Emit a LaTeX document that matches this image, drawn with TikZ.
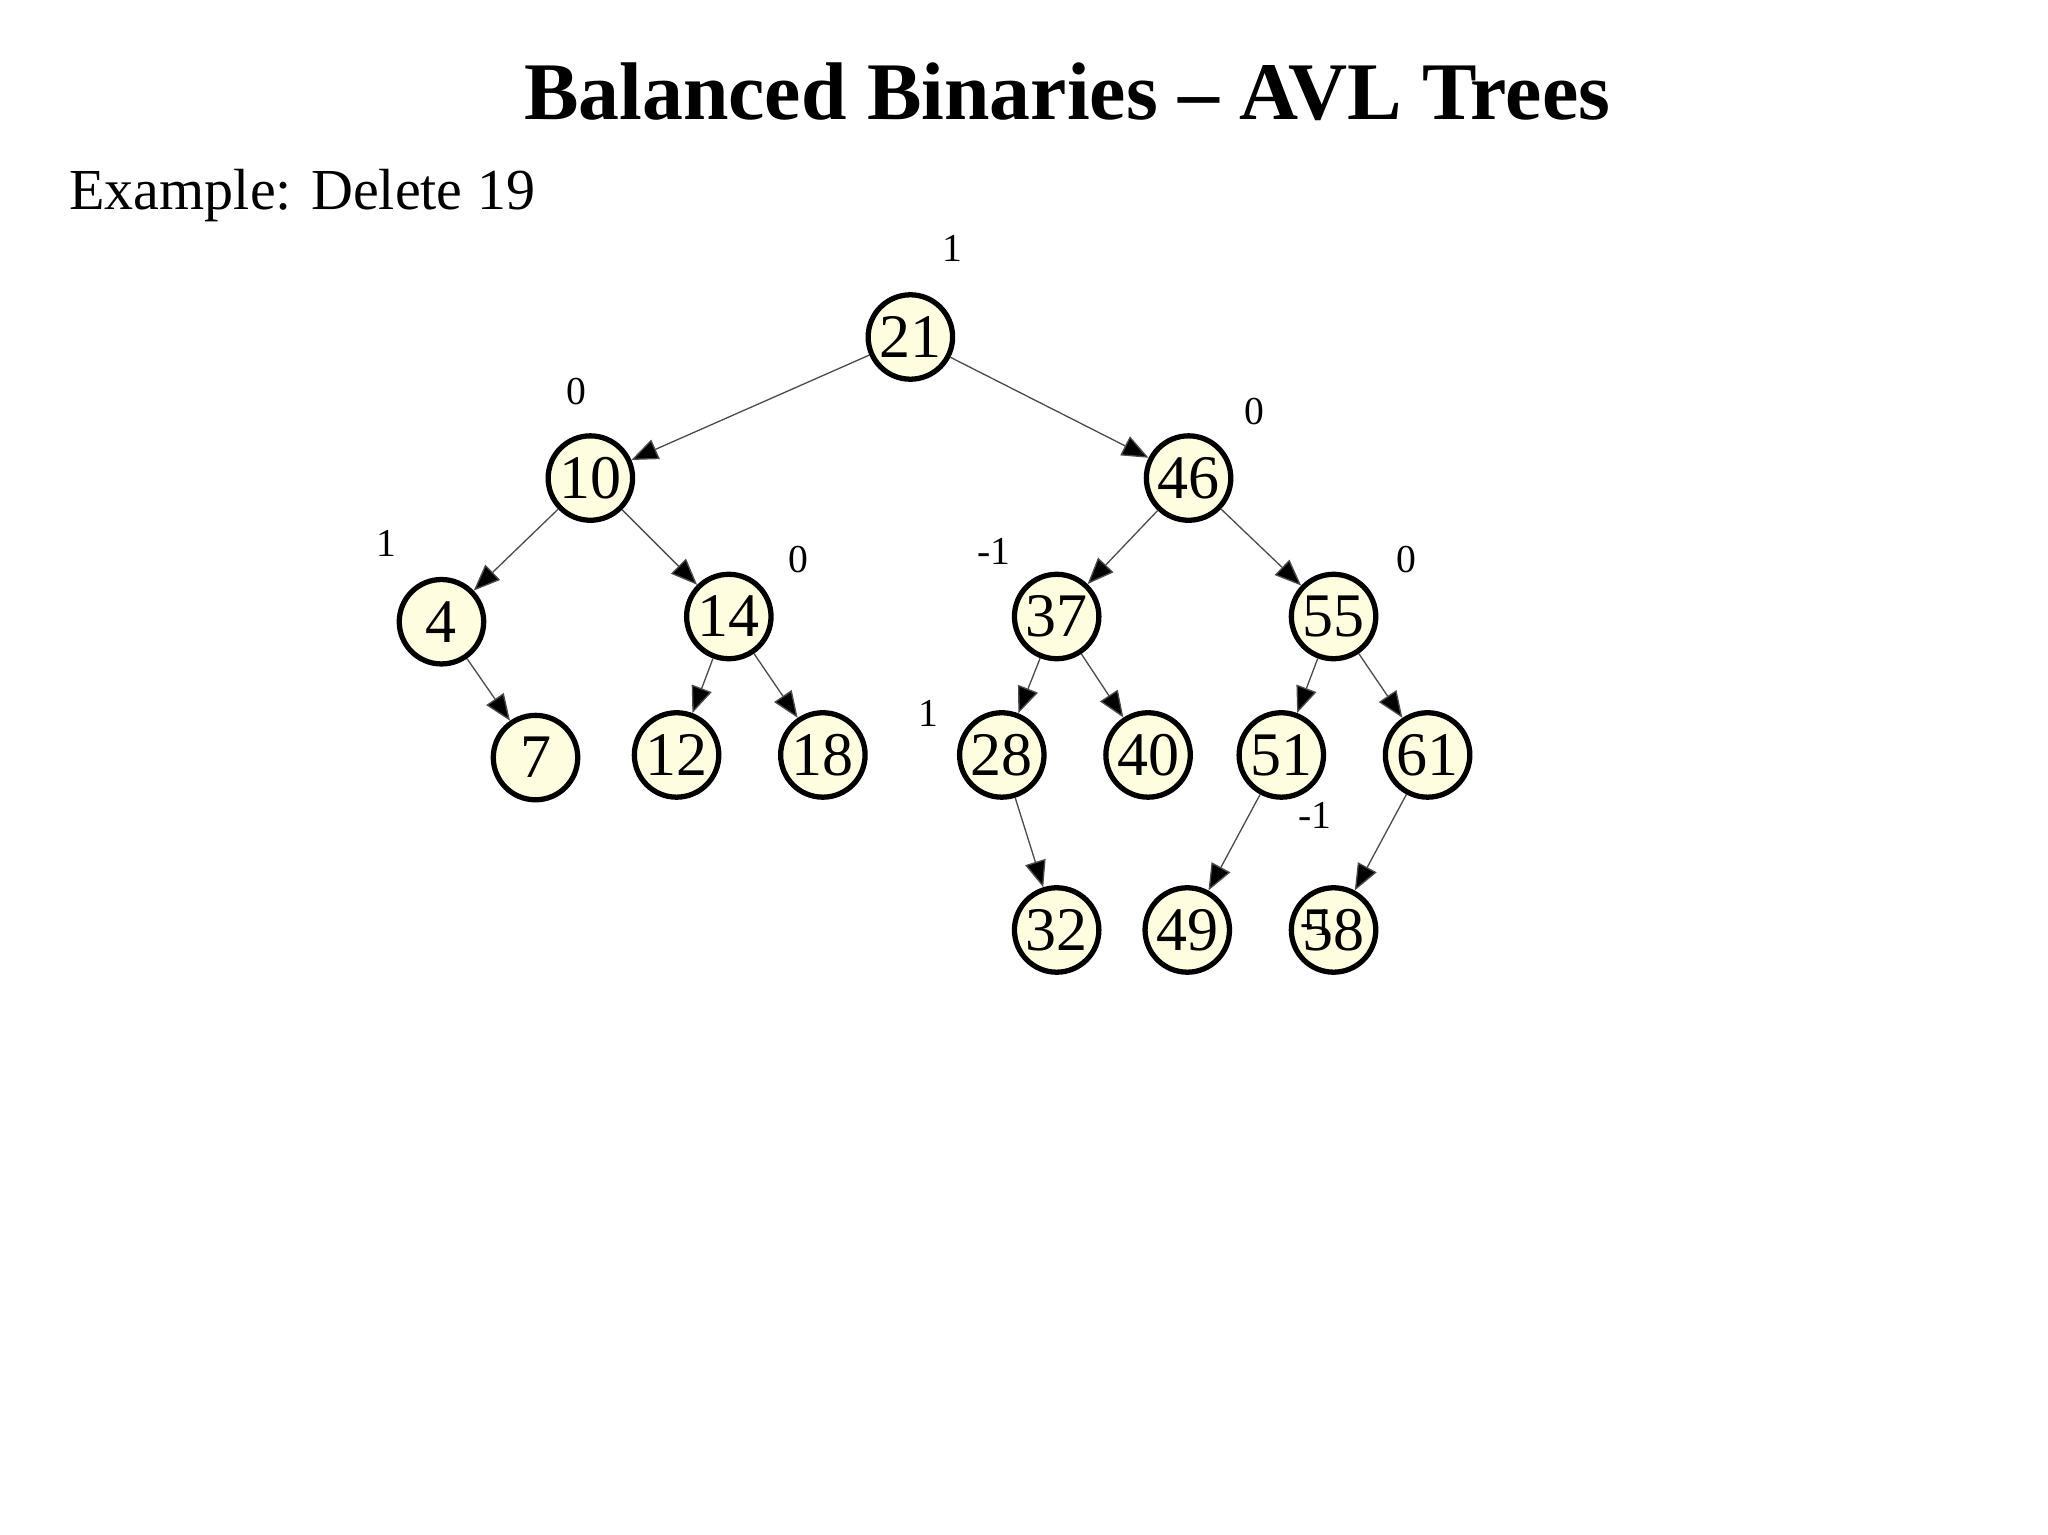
\documentclass[tikz,border=0pt]{standalone}
\usepackage{fontspec}
\setmainfont{Liberation Serif}
\usetikzlibrary{arrows.meta}
\definecolor{nodefill}{HTML}{FFFDE0}
\begin{document}
\begin{tikzpicture}[x=0.495pt,y=-0.495pt,
  tn/.style={circle,draw=black,line width=2pt,fill=nodefill,minimum size=32pt,inner sep=0pt,font=\fontsize{23.5}{25}\selectfont},
  bal/.style={font=\fontsize{15}{17}\selectfont},
  edge/.style={draw=black!70,line width=0.5pt,-{Triangle[length=10pt,width=8pt,fill=black]}}]
\useasboundingbox (0,0) rectangle (1568,1175);
\node[font=\bfseries\fontsize{31}{34}\selectfont] (title) at (817,70) {Balanced Binaries -- AVL Trees};
\node[anchor=west,font=\fontsize{22}{24}\selectfont] (ex) at (46,150) {Example: Delete 19};
\node[tn] (n21) at (697,258) {21};
\node[tn] (n10) at (452,366) {10};
\node[tn] (n46) at (910,366) {46};
\node[tn] (n4) at (338,476) {4};
\node[tn] (n14) at (558,472) {14};
\node[tn] (n37) at (809,472) {37};
\node[tn] (n55) at (1021,472) {55};
\node[tn] (n7) at (410,580) {7};
\node[tn] (n12) at (518,578) {12};
\node[tn] (n18) at (630,578) {18};
\node[tn] (n28) at (767,578) {28};
\node[tn] (n40) at (879,578) {40};
\node[tn] (n51) at (981,578) {51};
\node[tn] (n61) at (1093,578) {61};
\node[tn] (n32) at (809,712) {32};
\node[tn] (n49) at (909,712) {49};
\node[tn] (n58) at (1021,712) {58};
\foreach \a/\b in {n21/n10,n21/n46,n10/n4,n10/n14,n4/n7,n14/n12,n14/n18,n46/n37,n46/n55,n37/n28,n37/n40,n28/n32,n55/n51,n55/n61,n51/n49,n61/n58}
  \draw[edge] (\a) -- (\b);
\node[bal] (b21) at (729,190) {1};
\node[bal] (b10) at (441,300) {0};
\node[bal] (b46) at (960,315) {0};
\node[bal] (b4) at (296,416) {1};
\node[bal] (b14) at (611,428) {0};
\node[bal] (b37) at (761,422) {-1};
\node[bal] (b55) at (1077,428) {0};
\node[bal] (b28) at (711,546) {1};
\node[bal] (b51) at (1007,624) {-1};
\node[bal] (b61) at (1008,706) {-1};
\end{tikzpicture}
\end{document}
